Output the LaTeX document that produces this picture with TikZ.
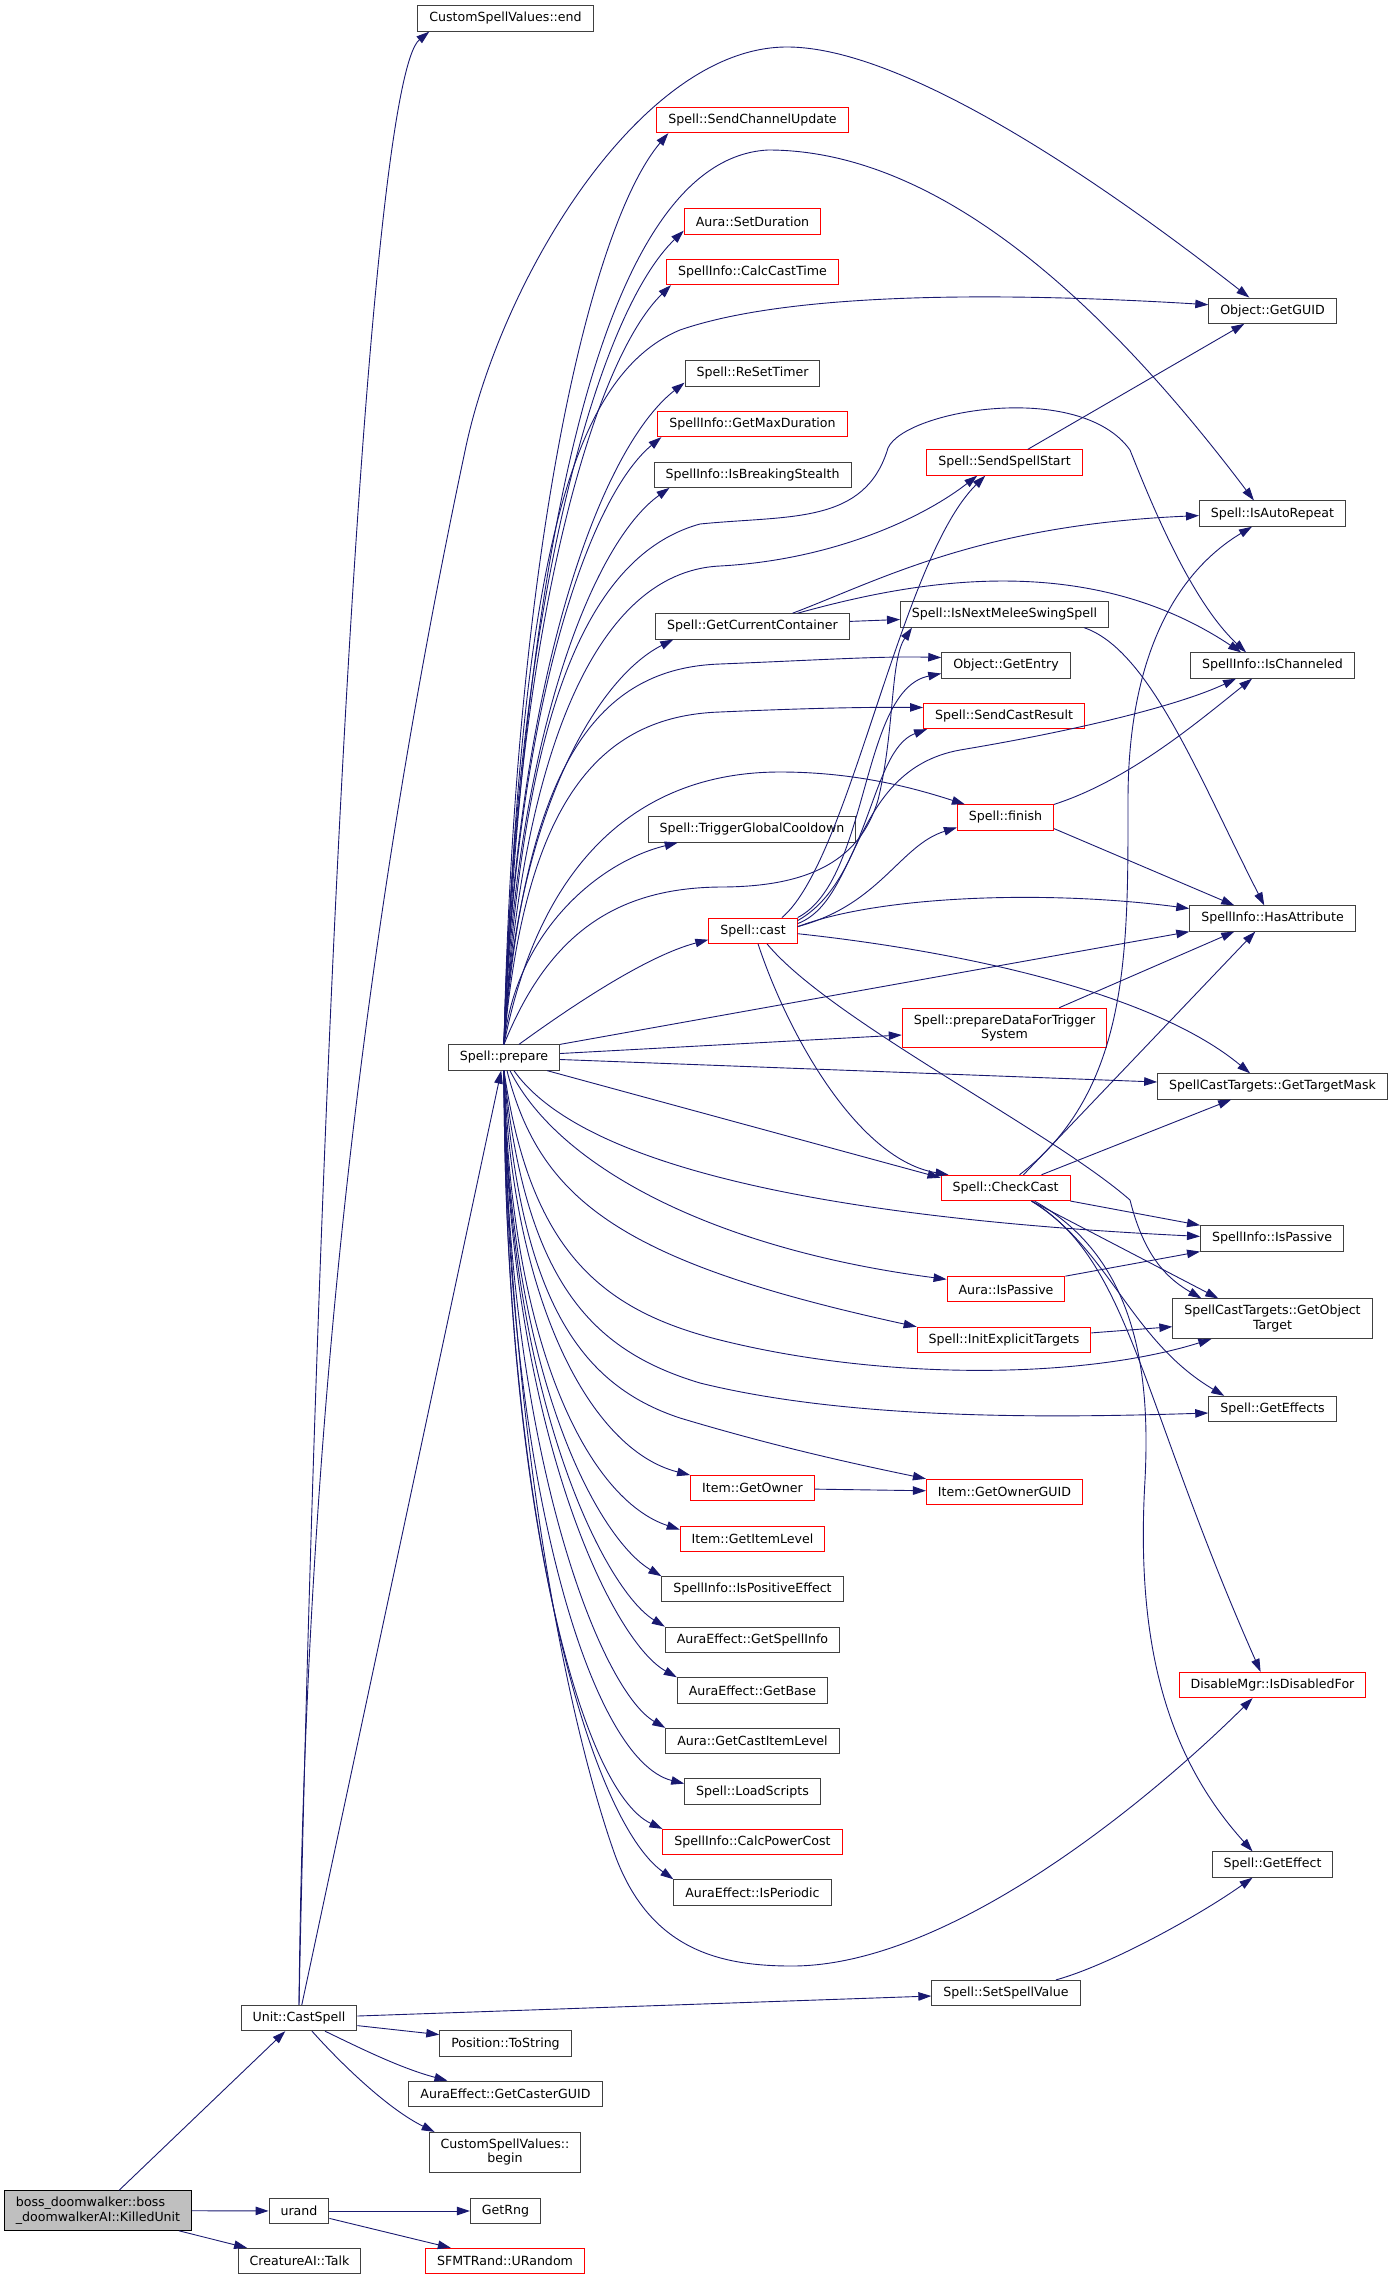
\documentclass[tikz,border=0pt]{standalone}
\usepackage{fontspec}
\setmainfont{DejaVu Sans}
\usepackage{tikz}
\usetikzlibrary{arrows.meta}
\usetikzlibrary{bayesnet}

\definecolor{edgeblue}{HTML}{191970}
\definecolor{boxgray}{HTML}{404040}
\definecolor{rootgray}{HTML}{BFBFBF}

\tikzset{
	fn/.style={draw=boxgray, fill=white, line width=1pt, inner xsep=11.5pt, inner ysep=2pt, minimum height=25.3pt, align=center, font=\fontsize{12.6}{14.5}\selectfont},
	fnred/.style={fn, draw=red},
	two/.style={minimum height=39.6pt},
	rootbox/.style={fn, draw=black, fill=rootgray, align=left, minimum height=39.6pt},
	call/.style={draw=edgeblue, line width=0.9pt, -{Triangle[length=13pt,width=8.5pt]}},
}

\begin{document}
\begin{tikzpicture}[x=1pt,y=-1pt] %
		\useasboundingbox (0,0) rectangle (1393,2283) ;
		% Root and its callees
		\node[rootbox] (killed) at (98,2210.5) {boss\_doomwalker::boss\\\_doomwalkerAI::KilledUnit} ;
		\node[fn] (urand) at (299,2211) {urand} ;
		\node[fn] (talk) at (299.5,2261) {CreatureAI::Talk} ;
		\node[fn] (getrng) at (505.5,2211) {GetRng} ;
		\node[fnred] (urandom) at (505,2261) {SFMTRand::URandom} ;
		\node[fn] (castspell) at (299,2018) {Unit::CastSpell} ;
		\node[fn] (tostring) at (505.5,2043.6) {Position::ToString} ;
		\node[fn] (casterguid) at (505.5,2093.8) {AuraEffect::GetCasterGUID} ;
		\node[fn, two] (spellbegin) at (505,2152.2) {CustomSpellValues::\\begin} ;
		\node[fn] (spellend) at (505.5,18.5) {CustomSpellValues::end} ;
		\node[fn] (prepare) at (504,1057.5) {Spell::prepare} ;
		% Middle column
		\node[fnred] (scu) at (752.5,120) {Spell::SendChannelUpdate} ;
		\node[fnred] (setdur) at (752.5,221.5) {Aura::SetDuration} ;
		\node[fnred] (cct) at (752.5,272) {SpellInfo::CalcCastTime} ;
		\node[fn] (rst) at (752.5,373.5) {Spell::ReSetTimer} ;
		\node[fnred] (gmd) at (752.5,424) {SpellInfo::GetMaxDuration} ;
		\node[fn] (ibs) at (752.5,474.7) {SpellInfo::IsBreakingStealth} ;
		\node[fn] (gcc) at (752.5,626.4) {Spell::GetCurrentContainer} ;
		\node[fn] (tgc) at (752,829.5) {Spell::TriggerGlobalCooldown} ;
		\node[fnred] (cast) at (753,930.7) {Spell::cast} ;
		\node[fnred] (getowner) at (752.5,1488.2) {Item::GetOwner} ;
		\node[fnred] (itemlevel) at (752.5,1538.7) {Item::GetItemLevel} ;
		\node[fn] (ipe) at (752.5,1589.3) {SpellInfo::IsPositiveEffect} ;
		\node[fn] (gsi) at (752.5,1639.8) {AuraEffect::GetSpellInfo} ;
		\node[fn] (getbase) at (752.5,1690.4) {AuraEffect::GetBase} ;
		\node[fn] (gcil) at (752.5,1741) {Aura::GetCastItemLevel} ;
		\node[fn] (loadscripts) at (752.5,1791.6) {Spell::LoadScripts} ;
		\node[fnred] (cpc) at (752.5,1842) {SpellInfo::CalcPowerCost} ;
		\node[fn] (periodic) at (752.5,1892.4) {AuraEffect::IsPeriodic} ;
		% Third column
		\node[fnred] (sss) at (1004.5,462.5) {Spell::SendSpellStart} ;
		\node[fn] (ismelee) at (1004.5,614.5) {Spell::IsNextMeleeSwingSpell} ;
		\node[fn] (getentry) at (1006,665.5) {Object::GetEntry} ;
		\node[fnred] (scr) at (1004,716) {Spell::SendCastResult} ;
		\node[fnred] (finish) at (1005.5,817.5) {Spell::finish} ;
		\node[fnred, two] (pdfts) at (1004.5,1028) {Spell::prepareDataForTrigger\\System} ;
		\node[fnred] (checkcast) at (1005.5,1187.9) {Spell::CheckCast} ;
		\node[fnred] (aurapassive) at (1006,1289.3) {Aura::IsPassive} ;
		\node[fnred] (iet) at (1004,1339.9) {Spell::InitExplicitTargets} ;
		\node[fnred] (ownerguid) at (1004.5,1491.9) {Item::GetOwnerGUID} ;
		\node[fn] (setvalue) at (1006,1993) {Spell::SetSpellValue} ;
		% Right column
		\node[fn] (getguid) at (1272.5,310.7) {Object::GetGUID} ;
		\node[fn] (iar) at (1272.5,513.6) {Spell::IsAutoRepeat} ;
		\node[fn] (ischan) at (1272.5,665.5) {SpellInfo::IsChanneled} ;
		\node[fn] (hasattr) at (1272.5,918.5) {SpellInfo::HasAttribute} ;
		\node[fn] (gtm) at (1272.5,1086.5) {SpellCastTargets::GetTargetMask} ;
		\node[fn] (sip) at (1272,1238.4) {SpellInfo::IsPassive} ;
		\node[fn, two] (got) at (1272.5,1318.7) {SpellCastTargets::GetObject\\Target} ;
		\node[fn] (geffs) at (1272.5,1409) {Spell::GetEffects} ;
		\node[fnred] (disable) at (1272.5,1685) {DisableMgr::IsDisabledFor} ;
		\node[fn] (geteffect) at (1272.5,1864.5) {Spell::GetEffect} ;
		% Straight calls
		\edge [call] {killed} {castspell} ;
		\edge [call] {killed} {urand} ;
		\edge [call] {killed} {talk} ;
		\edge [call] {urand} {getrng} ;
		\edge [call] {urand} {urandom} ;
		\edge [call] {castspell} {prepare} ;
		\edge [call] {getowner} {ownerguid} ;
		% Unit::CastSpell
		\draw[call] ([yshift=2]castspell.east) -- ([yshift=-3]setvalue.west) ;
		\draw[call] ([yshift=-7.6]castspell.east) -- ([yshift=9]tostring.west) ;
		\draw[call] ([xshift=26]castspell.south) .. controls (360,2048) and (400,2068) .. ([xshift=39]casterguid.north west) ;
		\draw[call] ([xshift=13]castspell.south) .. controls (345,2068) and (390,2110) .. ([xshift=6]spellbegin.north west) ;
		\draw[call] (castspell.north) .. controls (320,1000) and (370,80) .. ([xshift=12]spellend.south west) ;
		\draw[call] (castspell.north) .. controls (305,1400) and (370,900) .. (465,451) .. controls (500,281) and (640,47) .. (787,47) .. controls (920,47) and (1150,220) .. ([xshift=41]getguid.north west) ;
		\draw[call] ([xshift=50]setvalue.north) .. controls (1110,1965) and (1200,1915) .. ([xshift=41]geteffect.south west) ;
		% Spell::prepare, upwards
		\draw[call] (prepare.north) .. controls (515,543) and (591.5,224) .. ([xshift=12]scu.south west) ;
		\draw[call] (prepare.north) .. controls (515,597) and (599.5,311.5) .. ([yshift=4]setdur.south west) ;
		\draw[call] (prepare.north) .. controls (515,627) and (593.5,360.7) .. ([xshift=5]cct.south west) ;
		\draw[call] (prepare.north) .. controls (515,680.5) and (600,448.5) .. ([yshift=4]rst.south west) ;
		\draw[call] (prepare.north) .. controls (515,710) and (588.5,497.5) .. ([xshift=4]gmd.south west) ;
		\draw[call] (prepare.north) .. controls (515,738.4) and (592.5,543) .. ([xshift=16]ibs.south west) ;
		\draw[call] (prepare.north) .. controls (515,821.8) and (594,679.7) .. ([xshift=18]gcc.south west) ;
		\draw[call] (prepare.north) .. controls (515,933.4) and (597.5,862.3) .. ([xshift=30]tgc.south west) ;
		\draw[call] ([xshift=15]prepare.north) .. controls (580,1000) and (650,955) .. ([yshift=-9]cast.west) ;
		\draw[call] (prepare.north) .. controls (520,650) and (580,160) .. (768,150) .. controls (920,150) and (1080,270) .. ([xshift=55]iar.north west) ;
		\draw[call] (prepare.north) .. controls (520,760) and (570,560) .. (700,524) .. controls (790,515) and (865,525) .. (888,448) .. controls (905,410) and (1080,380) .. (1130,450) .. controls (1150,500) and (1190,600) .. ([xshift=56]ischan.north west) ;
		\draw[call] (prepare.north) .. controls (520,600) and (560,380) .. (680,330) .. controls (790,292) and (1000,292) .. ([yshift=6]getguid.west) ;
		\draw[call] (prepare.north) .. controls (520,770) and (590,572) .. (720,566) .. controls (830,560) and (920,520) .. ([xshift=51]sss.south west) ;
		\draw[call] (prepare.north) .. controls (525,760) and (600,668) .. (720,664) .. controls (820,660) and (880,656) .. ([yshift=8]getentry.west) ;
		\draw[call] (prepare.north) .. controls (525,800) and (600,716) .. (720,712) .. controls (810,708) and (870,707) .. ([yshift=8.5]scr.west) ;
		\draw[call] (prepare.north) .. controls (550,930) and (620,888) .. (720,887) .. controls (810,887) and (860,860) .. (878,800) .. controls (895,730) and (890,660) .. ([xshift=12]ismelee.south west) ;
		\draw[call] (prepare.north) .. controls (540,860) and (640,772) .. (780,772) .. controls (860,772) and (920,790) .. ([xshift=8]finish.north west) ;
		% Spell::prepare, to the right
		\draw[call] (prepare.north east) -- (hasattr.south west) ;
		\draw[call] ([yshift=4]prepare.east) -- ([yshift=-7]pdfts.west) ;
		\draw[call] ([yshift=-2]prepare.east) -- ([yshift=4.5]gtm.west) ;
		\draw[call] ([xshift=-13]prepare.south east) -- ([yshift=-3]checkcast.north west) ;
		% Spell::prepare, downwards
		\draw[call] ([xshift=10]prepare.south) .. controls (570,1150) and (760,1215) .. ([yshift=2]sip.west) ;
		\draw[call] ([xshift=6]prepare.south) .. controls (560,1170) and (720,1250) .. ([yshift=10]aurapassive.west) ;
		\draw[call] ([xshift=3]prepare.south) .. controls (540,1200) and (620,1262) .. (iet.north west) ;
		\draw[call] (prepare.south) .. controls (530,1250) and (600,1310) .. (720,1340) .. controls (880,1380) and (1080,1380) .. ([xshift=39]got.south west) ;
		\draw[call] (prepare.south) .. controls (525,1280) and (590,1350) .. (700,1383) .. controls (850,1420) and (1050,1418) .. ([yshift=-4]geffs.west) ;
		\draw[call] (prepare.south) .. controls (520,1300) and (580,1385) .. (680,1418) .. controls (780,1448) and (860,1465) .. (ownerguid.north west) ;
		\draw[call] (prepare.south) .. controls (512,1300) and (590,1450) .. (getowner.north west) ;
		\draw[call] (prepare.south) .. controls (510,1350) and (590,1500) .. ([yshift=-4]itemlevel.north west) ;
		\draw[call] (prepare.south) .. controls (508,1380) and (600,1540) .. (ipe.north west) ;
		\draw[call] (prepare.south) .. controls (507,1400) and (605,1590) .. (gsi.north west) ;
		\draw[call] (prepare.south) .. controls (506,1420) and (610,1640) .. (getbase.north west) ;
		\draw[call] (prepare.south) .. controls (505,1450) and (600,1690) .. (gcil.north west) ;
		\draw[call] (prepare.south) .. controls (505,1480) and (590,1760) .. ([yshift=8]loadscripts.west) ;
		\draw[call] (prepare.south) .. controls (504,1500) and (580,1790) .. (cpc.north west) ;
		\draw[call] (prepare.south) .. controls (504,1520) and (590,1820) .. (periodic.north west) ;
		\draw[call] (prepare.south) .. controls (508,1400) and (560,1700) .. (615,1855) .. controls (650,1950) and (720,1966) .. (792,1966) .. controls (950,1966) and (1150,1800) .. ([xshift=74]disable.south west) ;
		% Spell::GetCurrentContainer
		\draw[call] ([yshift=5]gcc.east) -- ([yshift=-5]ismelee.west) ;
		\draw[call] ([xshift=40]gcc.north) .. controls (880,580) and (980,525) .. ([yshift=-2]iar.west) ;
		\draw[call] ([xshift=45]gcc.north) .. controls (900,585) and (1080,545) .. ([xshift=51]ischan.north west) ;
		\draw[call] ([xshift=-25]ismelee.south east) .. controls (1150,650) and (1200,780) .. ([xshift=75]hasattr.north west) ;
		\draw[call] ([xshift=-55]sss.north east) -- ([xshift=36]getguid.south west) ;
		% Spell::cast
		\draw[call] ([xshift=29]cast.north) .. controls (850,860) and (900,560) .. ([xshift=59]sss.south west) ;
		\draw[call] (cast.north east) .. controls (870,880) and (860,690) .. ([yshift=-8]getentry.west) ;
		\draw[call] ([yshift=-3]cast.north east) .. controls (870,880) and (870,750) .. ([xshift=4]scr.south west) ;
		\draw[call] ([yshift=-6]cast.north east) .. controls (860,900) and (850,770) .. (960,750) .. controls (1080,730) and (1180,705) .. ([xshift=46]ischan.south west) ;
		\draw[call] ([yshift=-9]cast.north east) .. controls (880,905) and (900,845) .. ([yshift=-10]finish.west) ;
		\draw[call] ([yshift=4]cast.east) .. controls (880,895) and (1050,890) .. ([yshift=10]hasattr.west) ;
		\draw[call] ([yshift=-3]cast.east) .. controls (950,950) and (1150,990) .. ([xshift=93]gtm.north west) ;
		\draw[call] ([xshift=5]cast.south) .. controls (790,1040) and (860,1160) .. ([xshift=8]checkcast.north west) ;
		\draw[call] ([xshift=14]cast.south) .. controls (830,1020) and (1050,1130) .. (1130,1200) .. controls (1145,1260) and (1170,1280) .. ([xshift=29]got.north west) ;
		% Spell::finish and Spell::prepareDataForTriggerSystem
		\draw[call] (finish.north east) .. controls (1130,780) and (1200,720) .. ([xshift=62]ischan.south west) ;
		\draw[call] ([yshift=2]finish.south east) -- ([xshift=45]hasattr.north west) ;
		\draw[call] ([xshift=-48]pdfts.north east) -- ([xshift=45]hasattr.south west) ;
		% Spell::CheckCast
		\draw[call] ([xshift=14]checkcast.north) .. controls (1130,1090) and (1128,950) .. (1128,800) .. controls (1128,650) and (1180,570) .. ([xshift=53]iar.south west) ;
		\draw[call] ([xshift=18]checkcast.north) -- ([xshift=66]hasattr.south west) ;
		\draw[call] ([xshift=36]checkcast.north) -- ([xshift=74]gtm.south west) ;
		\draw[call] (checkcast.south east) -- (sip.north west) ;
		\draw[call] ([xshift=26]checkcast.south) -- ([xshift=46]got.north west) ;
		\draw[call] ([xshift=26]checkcast.south) .. controls (1110,1250) and (1130,1340) .. ([xshift=16]geffs.north west) ;
		\draw[call] ([xshift=26]checkcast.south) .. controls (1130,1260) and (1140,1400) .. ([xshift=82]disable.north west) ;
		\draw[call] ([xshift=29]checkcast.south) .. controls (1140,1260) and (1150,1380) .. (1145,1480) .. controls (1135,1650) and (1170,1760) .. ([xshift=41]geteffect.north west) ;
		% Remaining
		\draw[call] (aurapassive.north east) -- (sip.south west) ;
		\draw[call] ([yshift=7]iet.east) -- ([yshift=-8]got.west) ;
	\end{tikzpicture}
\end{document}
